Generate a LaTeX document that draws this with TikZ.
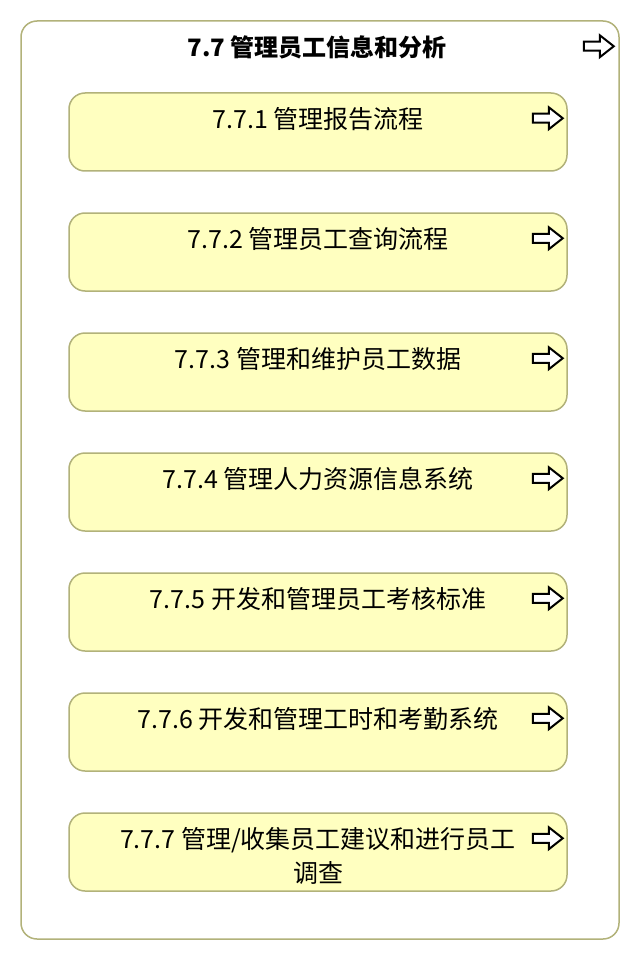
\documentclass[tikz,border=0pt]{standalone}
\usepackage{fontspec}
\setmainfont{Noto Sans CJK SC}
\usetikzlibrary{positioning}

\definecolor{boxline}{RGB}{178,178,122}
\definecolor{boxfill}{RGB}{255,255,192}

\begin{document}
\begin{tikzpicture}[x=1pt,y=1pt,node distance=120pt]

\tikzstyle{group}=[draw=boxline,line width=1.5pt,fill=white,rounded corners=16pt,minimum width=598pt,minimum height=918pt]
\tikzstyle{process}=[draw=boxline,line width=1.5pt,fill=boxfill,rounded corners=16pt,minimum width=498pt,minimum height=78pt]
\tikzstyle{proctext}=[font=\fontsize{25}{34}\selectfont,align=center,anchor=north,inner sep=0pt]
\tikzstyle{titletext}=[font=\fontsize{24}{28}\selectfont\bfseries,inner sep=0pt]
\tikzset{pics/goarrow/.style={code={
  \draw[line width=2pt,line join=miter,fill=white] (-15,4.5) -- (1,4.5) -- (1,11) -- (15,0) -- (1,-11) -- (1,-4.5) -- (-15,-4.5) -- cycle;}}}

\useasboundingbox (0,0) rectangle (640,-960);

%outer group
\node [group] (g77) at (320,-480) {};
\node [titletext] (t77) at (317,-47) {7.7 管理员工信息和分析};
\pic at ([shift={(-21,-26)}]g77.north east) {goarrow};

%processes
\node [process] (p771) at (318,-132) {};
\node [process] (p772) [below of=p771] {};
\node [process] (p773) [below of=p772] {};
\node [process] (p774) [below of=p773] {};
\node [process] (p775) [below of=p774] {};
\node [process] (p776) [below of=p775] {};
\node [process] (p777) [below of=p776] {};

%labels
\node [proctext] (t771) [below=15pt of p771.north] {7.7.1 管理报告流程};
\node [proctext] (t772) [below=15pt of p772.north] {7.7.2 管理员工查询流程};
\node [proctext] (t773) [below=15pt of p773.north] {7.7.3 管理和维护员工数据};
\node [proctext] (t774) [below=15pt of p774.north] {7.7.4 管理人力资源信息系统};
\node [proctext] (t775) [below=15pt of p775.north] {7.7.5 开发和管理员工考核标准};
\node [proctext] (t776) [below=15pt of p776.north] {7.7.6 开发和管理工时和考勤系统};
\node [proctext] (t777) [below=15pt of p777.north] {7.7.7 管理/收集员工建议和进行员工\\调查};

%arrows
\pic at ([shift={(-20,-26)}]p771.north east) {goarrow};
\pic at ([shift={(-20,-26)}]p772.north east) {goarrow};
\pic at ([shift={(-20,-26)}]p773.north east) {goarrow};
\pic at ([shift={(-20,-26)}]p774.north east) {goarrow};
\pic at ([shift={(-20,-26)}]p775.north east) {goarrow};
\pic at ([shift={(-20,-26)}]p776.north east) {goarrow};
\pic at ([shift={(-20,-26)}]p777.north east) {goarrow};

\end{tikzpicture}
\end{document}
